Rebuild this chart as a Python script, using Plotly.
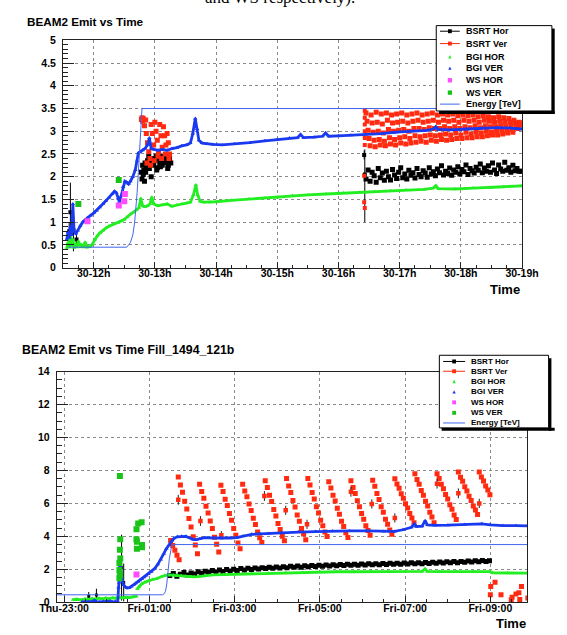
import numpy as np
import pandas as pd
import plotly.graph_objects as go

W, H = 567, 635

# ======================= TOP PANEL DATA (hours of day 30) =======================
top_energy_t = [11.59, 12.54, 12.60, 12.64, 12.67, 12.69, 12.71, 12.73, 12.75, 12.77, 12.79, 19.0]
top_energy_v = [0.45, 0.45, 0.55, 0.72, 1.00, 1.29, 1.65, 2.09, 2.50, 2.95, 3.50, 3.50]

top_bgiv_t = [11.56, 11.58, 11.60, 11.62, 11.64, 11.66, 11.68, 11.71, 11.74, 11.78, 11.82, 11.86,
              11.90, 11.95, 12.00, 12.05, 12.10, 12.15, 12.20, 12.25, 12.30, 12.34, 12.37, 12.40,
              12.42, 12.45, 12.48, 12.51, 12.54, 12.57, 12.60, 12.64, 12.68, 12.71, 12.73, 12.76,
              12.80, 12.84, 12.88, 12.91, 12.94, 12.98, 13.05, 13.12, 13.20, 13.28, 13.36, 13.44,
              13.52, 13.58, 13.62, 13.66, 13.69, 13.72, 13.77, 13.85, 13.95, 14.10, 14.30, 14.55,
              14.80, 15.00, 15.20, 15.33, 15.38, 15.43, 15.60, 15.74, 15.79, 15.84, 16.00, 16.20,
              16.45, 16.70, 16.95, 17.20, 17.45, 17.55, 17.59, 17.63, 17.85, 18.10, 18.35, 18.60,
              18.80, 19.00]
top_bgiv_v = [0.62, 0.78, 0.66, 0.90, 0.72, 1.40, 0.80, 0.75, 0.82, 0.92, 1.00, 1.05,
              1.10, 1.15, 1.20, 1.26, 1.33, 1.40, 1.47, 1.54, 1.62, 1.68, 1.65, 1.52,
              1.45, 1.58, 1.78, 1.90, 1.88, 1.84, 1.90, 2.00, 2.15, 2.35, 2.52, 2.55,
              2.58, 2.62, 2.70, 2.85, 2.62, 2.60, 2.58, 2.60, 2.58, 2.62, 2.64, 2.68,
              2.70, 2.74, 2.95, 3.28, 3.05, 2.80, 2.74, 2.72, 2.71, 2.70, 2.72, 2.75,
              2.79, 2.82, 2.85, 2.86, 2.93, 2.86, 2.87, 2.89, 2.96, 2.89, 2.90, 2.91,
              2.93, 2.95, 2.98, 3.00, 3.02, 3.05, 3.10, 3.04, 3.03, 3.05, 3.07, 3.08,
              3.07, 3.05]

top_bgih_t = [11.56, 11.58, 11.60, 11.62, 11.64, 11.66, 11.68, 11.70, 11.72, 11.75, 11.78, 11.80,
              11.83, 11.86, 11.89, 11.92, 11.95, 11.98, 12.02, 12.06, 12.10, 12.15, 12.20, 12.25,
              12.30, 12.35, 12.40, 12.45, 12.50, 12.55, 12.60, 12.65, 12.70, 12.74, 12.77, 12.80,
              12.84, 12.88, 12.92, 12.95, 12.98, 13.05, 13.12, 13.20, 13.28, 13.36, 13.44, 13.52,
              13.58, 13.63, 13.67, 13.70, 13.74, 13.80, 13.90, 14.00, 14.25, 14.54, 14.80, 15.00,
              15.25, 15.50, 15.80, 16.08, 16.35, 16.59, 16.85, 17.10, 17.40, 17.55, 17.59, 17.63,
              17.90, 18.20, 18.50, 18.70, 19.00]
top_bgih_v = [0.42, 0.55, 0.45, 0.80, 0.48, 0.62, 0.44, 0.52, 0.45, 0.58, 0.46, 0.50,
              0.45, 0.56, 0.45, 0.46, 0.47, 0.52, 0.62, 0.70, 0.76, 0.82, 0.87, 0.91,
              0.94, 0.97, 0.99, 1.02, 1.06, 1.12, 1.18, 1.22, 1.27, 1.32, 1.52, 1.36,
              1.34, 1.36, 1.40, 1.55, 1.40, 1.36, 1.38, 1.40, 1.35, 1.38, 1.40, 1.42,
              1.44, 1.60, 1.82, 1.60, 1.46, 1.44, 1.44, 1.45, 1.48, 1.51, 1.53, 1.55,
              1.58, 1.60, 1.62, 1.64, 1.66, 1.67, 1.69, 1.71, 1.72, 1.75, 1.80, 1.74,
              1.73, 1.75, 1.76, 1.78, 1.80]

# BSRT Hor: early points with large errors, cluster near 13h, late band
top_bsrth_err_t = [11.60, 11.62, 11.67, 11.72, 16.42, 16.43]
top_bsrth_err_v = [0.80, 1.22, 0.83, 0.62, 2.48, 2.05]
top_bsrth_err_up = [0.20, 0.65, 0.47, 0.12, 0.10, 0.55]
top_bsrth_err_dn = [0.20, 0.65, 0.47, 0.12, 0.10, 1.05]

top_bsrth_mid_t = [12.78, 12.79, 12.80, 12.81, 12.82, 12.83, 12.84, 12.86, 12.88, 12.90, 12.92, 12.94,
                   12.96, 12.98, 13.00, 13.02, 13.04, 13.06, 13.08, 13.10, 13.12, 13.14, 13.16, 13.18,
                   13.20, 13.22, 13.24, 13.26, 12.85, 12.91, 12.97, 13.03, 13.09, 13.15, 13.21]
top_bsrth_mid_v = [2.10, 1.95, 2.25, 2.05, 2.15, 1.90, 2.30, 2.20, 2.35, 2.45, 2.30, 2.00,
                   2.40, 2.25, 2.35, 2.45, 2.20, 2.40, 2.30, 2.45, 2.25, 2.40, 2.30, 2.45,
                   2.35, 2.25, 2.40, 2.30, 2.10, 2.18, 2.28, 2.15, 2.22, 2.33, 2.18]

top_bsrth_band_start = 16.45   # h
top_bsrth_band_step_min = 2    # sampling interval, minutes
top_bsrth_band_v = [1.95, 2.15, 1.90, 2.10, 2.02, 1.88, 2.18, 1.98, 2.08, 1.92,
                    2.12, 2.00, 1.93, 2.16, 2.04, 1.96, 2.10, 2.20, 1.98, 2.06,
                    1.95, 2.14, 2.03, 2.09, 1.97, 2.18, 2.05, 2.00, 2.13, 2.08,
                    1.99, 2.20, 2.06, 2.11, 2.02, 2.17, 2.09, 2.24, 2.04, 2.12,
                    2.07, 2.19, 2.03, 2.15, 2.10, 2.22, 2.06, 2.16, 2.11, 2.26,
                    2.05, 2.18, 2.13, 2.08, 2.21, 2.14, 2.28, 2.09, 2.19, 2.12,
                    2.24, 2.10, 2.30, 2.15, 2.07, 2.26, 2.17, 2.12, 2.32, 2.14,
                    2.20, 2.10, 2.25, 2.13, 2.18, 2.12, 2.12]

# BSRT Ver
top_bsrtv_mid_t = [12.78, 12.79, 12.80, 12.81, 12.83, 12.85, 12.86, 12.88, 12.90, 12.92, 12.94, 12.96,
                   12.98, 13.00, 13.02, 13.04, 13.06, 13.08, 13.10, 13.12, 13.14, 13.16, 13.18, 13.20,
                   13.22, 13.24, 12.87, 12.93, 12.99, 13.05, 13.11, 13.17, 13.23]
top_bsrtv_mid_v = [3.26, 3.30, 3.22, 3.28, 3.12, 3.25, 2.95, 2.75, 2.55, 2.40, 3.15, 2.95,
                   2.70, 3.20, 3.00, 2.80, 2.55, 3.15, 2.90, 2.65, 3.10, 2.90, 2.70, 2.95,
                   2.75, 2.50, 2.30, 2.25, 2.35, 2.45, 2.40, 2.50, 2.40]
top_bsrtv_first_t = [16.43, 16.43, 16.43, 16.43, 16.43, 16.43, 16.42, 16.42, 16.43]
top_bsrtv_first_v = [3.45, 3.30, 3.15, 3.00, 2.85, 2.70, 2.02, 1.44, 1.31]
top_bsrtv_teeth_start = 16.45    # h
top_bsrtv_tooth_period_min = 5
top_bsrtv_step_min = 1
top_bsrtv_teeth = [
    [3.40, 3.22, 3.02, 2.84, 2.68], [3.36, 3.18, 2.98, 2.80, 2.66], [3.42, 3.20, 3.00, 2.82, 2.70],
    [3.38, 3.16, 2.96, 2.78, 2.68], [3.40, 3.24, 3.04, 2.86, 2.72], [3.36, 3.18, 3.00, 2.82, 2.70],
    [3.38, 3.20, 3.02, 2.86, 2.74], [3.40, 3.22, 3.04, 2.88, 2.72], [3.36, 3.18, 3.00, 2.84, 2.74],
    [3.38, 3.22, 3.06, 2.90, 2.76], [3.40, 3.24, 3.06, 2.88, 2.78], [3.36, 3.20, 3.04, 2.90, 2.76],
    [3.38, 3.22, 3.08, 2.92, 2.80], [3.40, 3.24, 3.06, 2.90, 2.78], [3.36, 3.20, 3.06, 2.92, 2.82],
    [3.38, 3.24, 3.10, 2.94, 2.80], [3.36, 3.22, 3.06, 2.92, 2.82], [3.38, 3.24, 3.10, 2.96, 2.84],
    [3.34, 3.20, 3.06, 2.92, 2.84], [3.36, 3.24, 3.10, 2.98, 2.86], [3.34, 3.22, 3.08, 2.94, 2.86],
    [3.36, 3.24, 3.12, 2.98, 2.88], [3.32, 3.20, 3.08, 2.96, 2.88], [3.34, 3.24, 3.12, 3.00, 2.90],
    [3.32, 3.22, 3.10, 2.98, 2.92], [3.30, 3.20, 3.10, 3.00, 2.92], [3.32, 3.22, 3.12, 3.02, 2.94],
    [3.30, 3.20, 3.10, 3.00, 2.96], [3.28, 3.20, 3.12, 3.04, 2.98], [3.24, 3.18, 3.14, 3.10, 3.06],
    [3.20, 3.18, 3.16, 3.14, 3.15]]

top_wsh_t = [11.90, 12.41, 12.50, 12.51]
top_wsh_v = [1.02, 1.37, 1.46, 1.62]
top_wsv_t = [11.75, 12.41]
top_wsv_v = [1.40, 1.93]

top_y_ticks = [0, 0.5, 1, 1.5, 2, 2.5, 3, 3.5, 4, 4.5, 5]

# ======================= BOTTOM PANEL DATA (hours from Thu 00:00) =======================
bot_energy_t = [22.83, 25.31, 25.35, 25.38, 25.41, 25.43, 25.45, 25.47, 25.50, 25.52, 25.55, 33.87]
bot_energy_v = [0.45, 0.45, 0.52, 0.66, 1.10, 1.65, 2.15, 2.64, 3.05, 3.34, 3.50, 3.50]

bot_bgiv_t = [23.42, 23.50, 23.58, 23.66, 23.72, 23.76, 23.84, 23.92, 24.00, 24.08, 24.14, 24.20,
              24.26, 24.28, 24.29, 24.31, 24.33, 24.35, 24.37, 24.40, 24.44, 24.48, 24.53, 24.58,
              24.63, 24.68, 24.73, 24.78, 24.83, 24.88, 24.93, 24.98, 25.05, 25.13, 25.20, 25.27,
              25.34, 25.40, 25.46, 25.52, 25.58, 25.66, 25.76, 25.86, 25.95, 26.02, 26.10, 26.18,
              26.30, 26.50, 26.70, 26.90, 27.05, 27.20, 27.40, 27.60, 27.80, 28.10, 28.50, 28.90,
              29.30, 29.70, 30.10, 30.50, 30.75, 30.95, 31.15, 31.22, 31.26, 31.40, 31.47, 31.52,
              31.70, 32.00, 32.40, 32.80, 33.00, 33.30, 33.60, 33.87]
bot_bgiv_v = [0.02, 0.03, 0.02, 0.05, 0.10, 0.03, 0.02, 0.04, 0.03, 0.06, 0.02, 0.05,
              0.04, 0.90, 1.20, 2.70, 1.80, 1.60, 1.30, 1.05, 0.92, 0.86, 0.88, 0.95,
              1.05, 1.15, 1.25, 1.33, 1.42, 1.52, 1.62, 1.72, 1.85, 2.05, 2.30, 2.60,
              2.95, 3.25, 3.48, 3.72, 3.88, 3.97, 4.00, 4.00, 3.90, 3.82, 3.80, 3.84,
              3.92, 3.90, 3.89, 3.90, 3.92, 4.02, 4.12, 4.15, 4.18, 4.22, 4.26, 4.29,
              4.32, 4.33, 4.33, 4.30, 4.30, 4.40, 4.55, 4.75, 4.60, 4.62, 4.95, 4.70,
              4.67, 4.68, 4.72, 4.76, 4.70, 4.65, 4.65, 4.64]

bot_bgih_t = [23.21, 23.30, 23.40, 23.50, 23.58, 23.66, 23.74, 23.82, 23.90, 23.98, 24.06, 24.14,
              24.22, 24.30, 24.38, 24.46, 24.54, 24.62, 24.70, 24.71,
              24.72, 24.76, 24.82, 24.90, 24.98, 25.08, 25.18, 25.28, 25.36, 25.46, 25.56, 25.65,
              25.75, 25.85, 25.95, 26.05, 26.15, 26.30, 26.50, 26.75, 27.00, 27.40, 27.80, 28.20,
              28.60, 29.00, 29.40, 29.80, 30.20, 30.60, 31.00, 31.40, 31.47, 31.52, 31.80, 32.20,
              32.60, 33.00, 33.05, 33.40, 33.87]
bot_bgih_v = [0.15, 0.18, 0.14, 0.20, 0.16, 0.22, 0.18, 0.24, 0.20, 0.25, 0.22, 0.26,
              0.24, 0.28, 0.26, 0.30, 0.28, 0.33, 0.35, None,
              0.80, 0.95, 1.10, 1.22, 1.30, 1.38, 1.44, 1.54, 1.62, 1.66, 1.66, 1.62,
              1.60, 1.58, 1.55, 1.54, 1.56, 1.62, 1.66, 1.68, 1.70, 1.73, 1.76, 1.79,
              1.81, 1.83, 1.85, 1.85, 1.86, 1.87, 1.86, 1.87, 2.02, 1.87, 1.86, 1.86,
              1.87, 1.86, 1.78, 1.77, 1.77]

bot_bsrth_err_t = [23.58, 23.76, 24.35, 24.40]
bot_bsrth_err_v = [0.36, 0.44, 2.10, 1.20]
bot_bsrth_err_e = [0.26, 0.38, 2.00, 1.15]

bot_bsrth_band_start = 25.48
bot_bsrth_band_step_min = 5
bot_bsrth_band_v = [1.62, 1.75, 1.58, 1.70, 1.80, 1.66, 1.78, 1.72, 1.85, 1.76, 1.88, 1.80,
                    1.92, 1.84, 1.95, 1.87, 1.98, 1.90, 2.00, 1.93, 2.04, 1.96, 2.06, 1.99,
                    2.08, 2.01, 2.10, 2.04, 2.12, 2.06, 2.14, 2.08, 2.16, 2.10, 2.18, 2.12,
                    2.20, 2.13, 2.21, 2.15, 2.23, 2.17, 2.25, 2.19, 2.26, 2.20, 2.28, 2.22,
                    2.29, 2.23, 2.30, 2.24, 2.31, 2.25, 2.32, 2.26, 2.33, 2.27, 2.34, 2.28,
                    2.35, 2.29, 2.36, 2.30, 2.37, 2.31, 2.38, 2.32, 2.39, 2.33, 2.40, 2.34,
                    2.41, 2.35, 2.42, 2.36, 2.44, 2.38, 2.45, 2.39, 2.47, 2.40, 2.48, 2.42,
                    2.50, 2.44, 2.52, 2.45, 2.54, 2.47, 2.52]

bot_bsrtv_tail_t = [25.50, 25.55, 25.60, 25.65, 25.70]
bot_bsrtv_tail_v = [3.75, 3.45, 3.15, 2.85, 2.58]
bot_bsrtv_teeth_start = [25.68, 26.18, 26.68, 27.19, 27.72, 28.22, 28.72, 29.21, 29.73, 30.24,
                         30.76, 31.23, 31.75, 32.25, 32.74]
bot_bsrtv_step_min = 3
bot_bsrtv_teeth = [
    [7.60, 7.12, 6.68, 6.13, 5.66, 5.08, 4.57, 3.98, 3.47, 2.95],
    [7.17, 6.73, 6.31, 5.83, 5.42, 4.93, 4.47, 3.94, 3.52, 3.05],
    [7.11, 6.72, 6.26, 5.87, 5.38, 4.97, 4.48, 4.07, 3.60, 3.24],
    [7.17, 6.76, 6.40, 5.96, 5.57, 5.10, 4.72, 4.26, 3.92, 3.63],
    [7.37, 6.97, 6.50, 6.12, 5.63, 5.24, 4.78, 4.42, 4.00, 3.73],
    [7.51, 7.06, 6.66, 6.18, 5.78, 5.30, 4.92, 4.48, 4.14, 3.79],
    [7.51, 7.12, 6.66, 6.27, 5.80, 5.42, 4.98, 4.64, 4.26, 3.99],
    [7.31, 6.94, 6.50, 6.14, 5.70, 5.34, 4.92, 4.60, 4.22, 3.93],
    [7.37, 6.96, 6.60, 6.16, 5.80, 5.38, 5.04, 4.64, 4.36, 4.07],
    [7.41, 7.04, 6.60, 6.24, 5.80, 5.46, 5.04, 4.74, 4.38, 4.13],
    [7.50, 7.18, 6.92, 6.58, 6.32, 5.98, 5.72, 5.38, 5.12, 4.82],
    [7.80, 7.45, 7.16, 6.79, 6.50, 6.13, 5.84, 5.47, 5.18, 4.82],
    [7.80, 7.51, 7.16, 6.89, 6.54, 6.27, 5.92, 5.65, 5.30, 5.02],
    [7.90, 7.59, 7.34, 7.01, 6.76, 6.43, 6.18, 5.85, 5.60, 5.32],
    [7.90, 7.60, 7.36, 7.06, 6.82, 6.52]]
bot_bsrtv_err_t = [25.68, 26.20, 26.69, 27.70, 28.20, 28.70, 29.73, 30.22, 30.76, 31.75, 32.25, 32.74]
bot_bsrtv_err_v = [6.22, 4.93, 4.07, 6.45, 5.58, 4.73, 6.71, 5.97, 5.12, 7.20, 6.61, 6.00]
bot_bsrtv_err_e = [0.30, 0.30, 0.25, 0.30, 0.28, 0.28, 0.30, 0.28, 0.28, 0.30, 0.30, 0.28]
bot_bsrtv_after_t = [33.00, 33.01, 33.11, 33.25, 33.49, 33.51, 33.60, 33.67, 33.69, 33.73, 33.88]
bot_bsrtv_after_v = [0.46, 0.96, 1.21, 0.46, 0.14, 0.30, 0.50, 0.58, 0.16, 0.96, 0.26]

bot_wsv_t = [24.31, 24.32, 24.31, 24.30, 24.30, 24.31, 24.32, 24.30, 24.70, 24.74, 24.82, 24.70,
             24.71, 24.83, 24.83, 24.71]
bot_wsv_v = [7.66, 3.83, 3.18, 2.38, 1.95, 1.65, 2.65, 1.45, 4.43, 4.78, 4.86, 3.83,
             3.67, 3.47, 3.34, 3.24]
bot_wsh_t = [24.70]
bot_wsh_v = [1.69]

bot_y_ticks = [0, 2, 4, 6, 8, 10, 12, 14]

legend_labels = ["BSRT Hor", "BSRT Ver", "BGI HOR", "BGI VER", "WS HOR", "WS VER", "Energy [TeV]"]

# ======================= STYLE =======================
C_BLACK = "#000000"
C_RED = "#ff2a10"
C_GREEN = "#22ee22"
C_BLUE = "#1a3af0"
C_MAG = "#ff4cff"
C_WSG = "#19c419"
C_EN = "#3f66ee"
FONT = "Liberation Sans"

TOP_DAY = pd.Timestamp("2010-10-30")
BOT_DAY = pd.Timestamp("2010-10-28")


def tt(base, hours):
    return list(base + pd.to_timedelta(np.asarray(hours, dtype=float), unit="h"))


def band_times(start, step_min, n):
    return [start + i * step_min / 60.0 for i in range(n)]


def teeth_series(starts, step_min, teeth):
    ts, vs = [], []
    for s, tooth in zip(starts, teeth):
        for i, v in enumerate(tooth):
            ts.append(s + i * step_min / 60.0)
            vs.append(v)
    return ts, vs


fig = go.Figure()


def sq(x, y, color, size, xa, ya, err=None):
    tr = dict(x=x, y=y, mode="markers", xaxis=xa, yaxis=ya, showlegend=False, hoverinfo="skip",
              marker=dict(symbol="square", size=size, color=color, line=dict(width=0)))
    if err is not None:
        tr["error_y"] = err
    fig.add_trace(go.Scatter(**tr))


def bgi(x, y, color, xa, ya):
    fig.add_trace(go.Scatter(x=x, y=y, mode="lines+markers", xaxis=xa, yaxis=ya, showlegend=False,
                             hoverinfo="skip", line=dict(color=color, width=2.8),
                             marker=dict(symbol="triangle-up", size=4, color=color, line=dict(width=0))))


# ---------------- top panel traces ----------------
xa, ya = "x", "y"
sq(tt(TOP_DAY, top_bsrth_err_t), top_bsrth_err_v, C_BLACK, 4, xa, ya,
   dict(type="data", array=top_bsrth_err_up, arrayminus=top_bsrth_err_dn, color="#000", thickness=1, width=0))
sq(tt(TOP_DAY, top_bsrth_mid_t), top_bsrth_mid_v, C_BLACK, 5, xa, ya)
sq(tt(TOP_DAY, band_times(top_bsrth_band_start, top_bsrth_band_step_min, len(top_bsrth_band_v))),
   top_bsrth_band_v, C_BLACK, 5, xa, ya)

sq(tt(TOP_DAY, top_bsrtv_mid_t), top_bsrtv_mid_v, C_RED, 5, xa, ya)
sq(tt(TOP_DAY, top_bsrtv_first_t), top_bsrtv_first_v, C_RED, 4, xa, ya)
_starts = [top_bsrtv_teeth_start + k * top_bsrtv_tooth_period_min / 60.0 for k in range(len(top_bsrtv_teeth))]
_t, _v = teeth_series(_starts, top_bsrtv_step_min, top_bsrtv_teeth)
sq(tt(TOP_DAY, _t), _v, C_RED, 5, xa, ya)

bgi(tt(TOP_DAY, top_bgih_t), top_bgih_v, C_GREEN, xa, ya)
bgi(tt(TOP_DAY, top_bgiv_t), top_bgiv_v, C_BLUE, xa, ya)
sq(tt(TOP_DAY, top_wsh_t), top_wsh_v, C_MAG, 6, xa, ya)
sq(tt(TOP_DAY, top_wsv_t), top_wsv_v, C_WSG, 6, xa, ya)
fig.add_trace(go.Scatter(x=tt(TOP_DAY, top_energy_t), y=top_energy_v, mode="lines", xaxis=xa, yaxis=ya,
                         showlegend=False, hoverinfo="skip", line=dict(color=C_EN, width=1)))

# ---------------- bottom panel traces ----------------
xa, ya = "x2", "y2"
sq(tt(BOT_DAY, bot_bsrth_err_t), bot_bsrth_err_v, C_BLACK, 3, xa, ya,
   dict(type="data", array=bot_bsrth_err_e, color="#000", thickness=1, width=0))
sq(tt(BOT_DAY, band_times(bot_bsrth_band_start, bot_bsrth_band_step_min, len(bot_bsrth_band_v))),
   bot_bsrth_band_v, C_BLACK, 5, xa, ya)
sq(tt(BOT_DAY, bot_bsrtv_tail_t), bot_bsrtv_tail_v, C_RED, 5, xa, ya)
_t, _v = teeth_series(bot_bsrtv_teeth_start, bot_bsrtv_step_min, bot_bsrtv_teeth)
sq(tt(BOT_DAY, _t), _v, C_RED, 5, xa, ya)
sq(tt(BOT_DAY, bot_bsrtv_err_t), bot_bsrtv_err_v, C_RED, 4.5, xa, ya,
   dict(type="data", array=bot_bsrtv_err_e, color="#222", thickness=1, width=0))
sq(tt(BOT_DAY, bot_bsrtv_after_t), bot_bsrtv_after_v, C_RED, 5, xa, ya)

bgi(tt(BOT_DAY, bot_bgih_t), bot_bgih_v, C_GREEN, xa, ya)
bgi(tt(BOT_DAY, bot_bgiv_t), bot_bgiv_v, C_BLUE, xa, ya)
sq(tt(BOT_DAY, bot_wsh_t), bot_wsh_v, C_MAG, 6, xa, ya)
sq(tt(BOT_DAY, bot_wsv_t), bot_wsv_v, C_WSG, 6, xa, ya)
fig.add_trace(go.Scatter(x=tt(BOT_DAY, bot_energy_t), y=bot_energy_v, mode="lines", xaxis=xa, yaxis=ya,
                         showlegend=False, hoverinfo="skip", line=dict(color=C_EN, width=1)))

# ======================= AXES =======================
tickfont = dict(family=FONT, size=10.5, color="black", weight="bold")


def xdom(a, b):
    return [a / W, b / W]


def ydom(top, bottom):
    return [1 - bottom / H, 1 - top / H]


common = dict(showline=True, mirror=True, linecolor="#222", linewidth=1, showgrid=True,
              gridcolor="#8a8a8a", griddash="dot", gridwidth=1, zeroline=False,
              ticks="inside", tickcolor="#222", tickfont=tickfont)

fig.update_layout(
    xaxis=dict(common, type="date", domain=xdom(49, 537.3), anchor="y",
               range=[tt(TOP_DAY, [11.5])[0], tt(TOP_DAY, [19.0])[0]],
               tick0="2010-10-30 00:00:00", dtick=3600000, tickformat="%d-%Hh", ticklen=6,
               ticklabelstandoff=-4,
               minor=dict(dtick=900000, ticklen=3, ticks="inside", tickcolor="#222", showgrid=False)),
    yaxis=dict(common, domain=ydom(35, 266.7), anchor="x", range=[0, 5], tickvals=top_y_ticks,
               ticklen=11, ticklabelstandoff=4,
               minor=dict(dtick=0.1, ticklen=5, ticks="inside", tickcolor="#222", showgrid=False)),
    xaxis2=dict(common, type="date", domain=xdom(42.3, 543), anchor="y2",
                range=[tt(BOT_DAY, [22.83])[0], tt(BOT_DAY, [33.87])[0]],
                tick0="2010-10-28 23:00:00", dtick=7200000, tickformat="%a-%H:%M", ticklen=6,
                ticklabelstandoff=-4,
                minor=dict(dtick=1800000, ticklen=3, ticks="inside", tickcolor="#222", showgrid=False)),
    yaxis2=dict(common, domain=ydom(372.7, 607.7), anchor="x2", range=[0, 14], tickvals=bot_y_ticks,
                ticklen=11, ticklabelstandoff=4,
                minor=dict(dtick=0.5, ticklen=5, ticks="inside", tickcolor="#222", showgrid=False)),
)

# ======================= TEXT / LEGENDS =======================
shapes, annos = [], []


def px(x):
    return x / W


def py(y):
    return 1 - y / H


def text(x, y, s, size, xanchor="left", yanchor="middle", family=FONT, weight="bold"):
    annos.append(dict(x=px(x), y=py(y), xref="paper", yref="paper", text=s, showarrow=False,
                      xanchor=xanchor, yanchor=yanchor,
                      font=dict(family=family, size=size, color="black", weight=weight)))


def rect(x0, y0, x1, y1, fill, line=None, lw=0):
    shapes.append(dict(type="rect", xref="paper", yref="paper", x0=px(x0), x1=px(x1), y0=py(y1), y1=py(y0),
                       fillcolor=fill, line=dict(color=line or fill, width=lw), layer="above"))


def hline(x0, x1, y, color, w=1):
    shapes.append(dict(type="line", xref="paper", yref="paper", x0=px(x0), x1=px(x1), y0=py(y), y1=py(y),
                       line=dict(color=color, width=w), layer="above"))


def tri(x, y, s, color):
    path = "M {:.5f},{:.5f} L {:.5f},{:.5f} L {:.5f},{:.5f} Z".format(
        px(x - s / 2), py(y + s / 2), px(x + s / 2), py(y + s / 2), px(x), py(y - s / 2))
    shapes.append(dict(type="path", xref="paper", yref="paper", path=path, fillcolor=color,
                       line=dict(color=color, width=0), layer="above"))


def legend(box, shadow, rows, lx0, lx1, mx, tx, fsize, msq):
    rect(shadow[0], box[3], shadow[1], box[3] + 3, "black")
    rect(box[2], box[1] + 3, box[2] + 3, box[3] + 3, "black")
    rect(box[0], box[1], box[2], box[3], "white", "black", 1)
    styles = [("linesq", C_BLACK), ("linesq", C_RED), ("tri", C_GREEN), ("tri", C_BLUE),
              ("sq", C_MAG), ("sq", C_WSG), ("line", C_EN)]
    for (kind, col), y, lab in zip(styles, rows, legend_labels):
        if kind in ("linesq", "line"):
            hline(lx0, lx1, y, col, 1)
        if kind == "linesq":
            rect(mx - 2, y - 2, mx + 2, y + 2, col)
        if kind == "sq":
            rect(mx - msq / 2, y - msq / 2, mx + msq / 2, y + msq / 2, col)
        if kind == "tri":
            tri(mx, y, 3.5, col)
        text(tx, y, lab, fsize)


legend((446, 20, 569, 107), (449, 572), [25.7, 38.3, 51.7, 63.3, 75.7, 88.3, 100.0],
       450, 471, 460.5, 475.5, 9, 4.5)
legend((449.3, 356, 565.5, 430), (451.7, 572), [362.3, 372.3, 382.7, 393.3, 404.0, 414.7, 425.0],
       453.3, 476.7, 465, 480.5, 8, 4)

text(8, 16, "BEAM2 Emit vs Time", 11.7)
text(3, 350.7, "BEAM2 Emit vs Time Fill_1494_121b", 12.3)
text(537.5, 289, "Time", 13, xanchor="right")
text(543.5, 629.5, "Time", 13, xanchor="right")
text(362, 3, "and WS respectively).", 17, xanchor="right", yanchor="bottom",
     family="Liberation Serif", weight="normal")

fig.update_layout(width=W, height=H, margin=dict(l=0, r=0, t=0, b=0), autosize=False,
                  paper_bgcolor="white", plot_bgcolor="white", shapes=shapes, annotations=annos)

fig.write_html("out.html", config={"displayModeBar": False},
               post_script="document.body.style.margin='0';document.body.style.overflow='hidden';")
